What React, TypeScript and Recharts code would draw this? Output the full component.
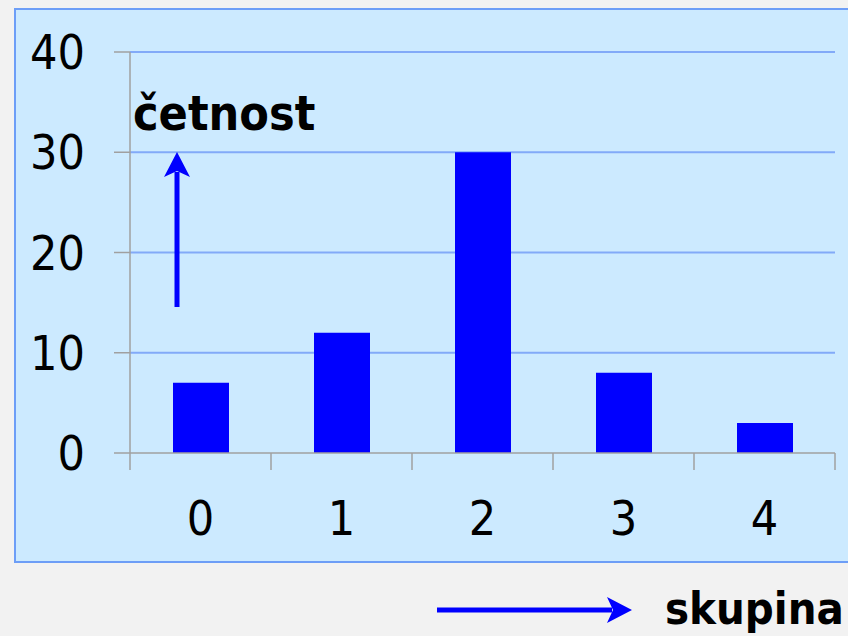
import { BarChart, Bar, XAxis, YAxis, CartesianGrid } from 'recharts';

const groups = ['0', '1', '2', '3', '4'];
const counts = [7, 12, 30, 8, 3];
const yTicks = [0, 10, 20, 30, 40];
const gridValues = [10, 20, 30, 40];

const FONT = '"DejaVu Sans Condensed", "DejaVu Sans", sans-serif';
const PLOT_LEFT = 130;
const PLOT_RIGHT = 835;
const BAND = (PLOT_RIGHT - PLOT_LEFT) / groups.length;

const chartData = groups.map((g, i) => ({ group: g, count: counts[i] }));

const GroupTick = (props: any) => {
  const { x, y, payload, index } = props;
  const top = y - 19; // axis line
  return (
    <g>
      <line x1={x - BAND / 2} x2={x - BAND / 2} y1={top} y2={top + 17} stroke="#a0a0a0" strokeWidth={1.5} />
      {index === groups.length - 1 && (
        <line x1={x + BAND / 2} x2={x + BAND / 2} y1={top} y2={top + 17} stroke="#a0a0a0" strokeWidth={1.5} />
      )}
      <text x={x} y={top + 82} textAnchor="middle" fill="#000" fontSize={48} fontFamily={FONT}>
        {payload.value}
      </text>
    </g>
  );
};

export default function App() {
  return (
    <div style={{ position: 'fixed', left: 0, top: 0, width: 848, height: 636, background: '#f2f2f2', overflow: 'hidden', fontFamily: FONT }}>
      <div
        style={{
          position: 'absolute', left: 14, top: 8, width: 850, height: 551,
          background: '#cceaff', border: '2px solid #6d9ef7', boxSizing: 'content-box',
        }}
      />
      <div style={{ position: 'absolute', left: 0, top: 0 }}>
        <BarChart width={848} height={636} data={chartData} margin={{ top: 52, right: 13, left: 0, bottom: 83 }} barSize={56}>
          <CartesianGrid vertical={false} horizontalValues={gridValues} stroke="#82aaf8" strokeWidth={2} />
          <XAxis
            dataKey="group"
            height={100}
            stroke="#a0a0a0"
            strokeWidth={1.5}
            tickLine={false}
            tickSize={17}
            tick={<GroupTick />}
            interval={0}
          />
          <YAxis
            width={130}
            domain={[0, 40]}
            ticks={yTicks}
            stroke="#a0a0a0"
            strokeWidth={1.5}
            tickSize={16}
            tickMargin={29}
            tick={{ fill: '#000', fontSize: 48, fontFamily: FONT }}
          />
          <Bar dataKey="count" fill="#0000ff" isAnimationActive={false} />
        </BarChart>
      </div>
      <svg width={848} height={636} style={{ position: 'absolute', left: 0, top: 0, pointerEvents: 'none' }}>
        <text x={133} y={130} fontSize={48} fontWeight="bold" fontFamily={FONT} fill="#000">četnost</text>
        <line x1={177} x2={177} y1={307} y2={172} stroke="#0000ff" strokeWidth={5} />
        <path d="M177,152 L164,177 L177,171 L190,177 Z" fill="#0000ff" />
        <line x1={437} x2={612} y1={610} y2={610} stroke="#0000ff" strokeWidth={5} />
        <path d="M632,610 L607,597 L613,610 L607,623 Z" fill="#0000ff" />
        <text x={665} y={624} fontSize={45} fontWeight="bold" fontFamily={FONT} fill="#000">skupina</text>
      </svg>
    </div>
  );
}
